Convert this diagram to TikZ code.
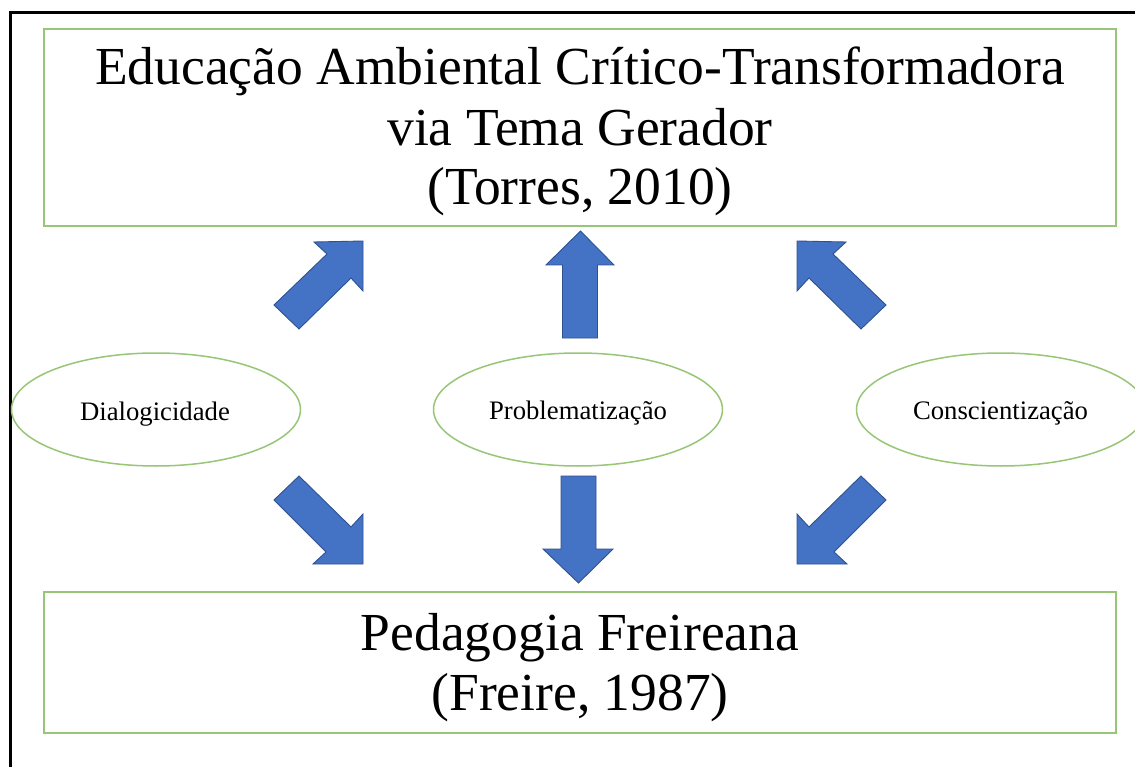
\documentclass[tikz,border=0pt]{standalone}
\usepackage{fontspec}
\setmainfont{Liberation Serif}
\usetikzlibrary{shapes.geometric}
\definecolor{boxgreen}{RGB}{150,198,118}
\definecolor{arrowblue}{RGB}{68,114,196}
\definecolor{arrowdark}{RGB}{47,82,143}
\tikzset{
  bigbox/.style={draw=boxgreen, line width=2pt, rectangle, inner sep=0pt},
  oval/.style={draw=boxgreen, line width=1.5pt, ellipse, inner sep=0pt, minimum width=289pt, minimum height=113pt},
  bigtext/.style={anchor=base, inner sep=0pt, font=\fontsize{53.5}{60}\selectfont},
  smalltext/.style={anchor=base, inner sep=0pt, font=\fontsize{26.7}{30}\selectfont},
  blockarrow/.style={fill=arrowblue, draw=arrowdark, line width=0.9pt, line join=miter},
  frameline/.style={draw=black, line width=3pt}
}
\begin{document}
\begin{tikzpicture}[x=1pt,y=-1pt]
\useasboundingbox (0,0) rectangle (1135,767);
\clip (0,0) rectangle (1135,767);
\fill[white] (0,0) rectangle (1135,767);
% outer frame (partly outside the picture)
\draw[frameline] (10,12.8) rectangle (1160,800);
% boxes
\node[bigbox, minimum width=1072pt, minimum height=197pt] (top) at (580,127.5) {};
\node[bigbox, minimum width=1072pt, minimum height=141pt] (bottom) at (580,662.5) {};
\node[bigtext] (t1) at (580,85) {Educação Ambiental Crítico-Transformadora};
\node[bigtext] (t2) at (580,146) {via Tema Gerador};
\node[bigtext] (t3) at (580,205) {(Torres, 2010)};
\node[bigtext] (b1) at (580,650) {Pedagogia Freireana};
\node[bigtext] (b2) at (580,710) {(Freire, 1987)};
% ellipses
\node[oval] (dia) at (156,409.5) {};
\node[oval] (prob) at (578,409.5) {};
\node[oval] (cons) at (1001,409.5) {};
\node[smalltext] (diat) at (155,420) {Dialogicidade};
\node[smalltext] (probt) at (578,419.5) {Problematização};
\node[smalltext] (const) at (1000.5,419.5) {Conscientização};
% block arrows
\draw[blockarrow] (274,305) -- (327,254) -- (314,242) -- (363,241) -- (363,291) -- (351,278) -- (299,329) -- cycle;
\draw[blockarrow] (562.5,338) -- (562.5,265) -- (546,265) -- (580.5,231) -- (614,265) -- (597.5,265) -- (597.5,338) -- cycle;
\draw[blockarrow] (886,305) -- (833,254) -- (846,242) -- (797,241) -- (797,291) -- (809,278) -- (861,329) -- cycle;
\draw[blockarrow] (274,500) -- (299,476) -- (351,527) -- (363,514) -- (363,564) -- (313,564) -- (326,552) -- cycle;
\draw[blockarrow] (561,476) -- (596,476) -- (596,549) -- (613,549) -- (578.5,583) -- (543,549) -- (561,549) -- cycle;
\draw[blockarrow] (886,500) -- (861,476) -- (809,527) -- (797,514) -- (797,564) -- (847,564) -- (834,552) -- cycle;
\end{tikzpicture}
\end{document}
